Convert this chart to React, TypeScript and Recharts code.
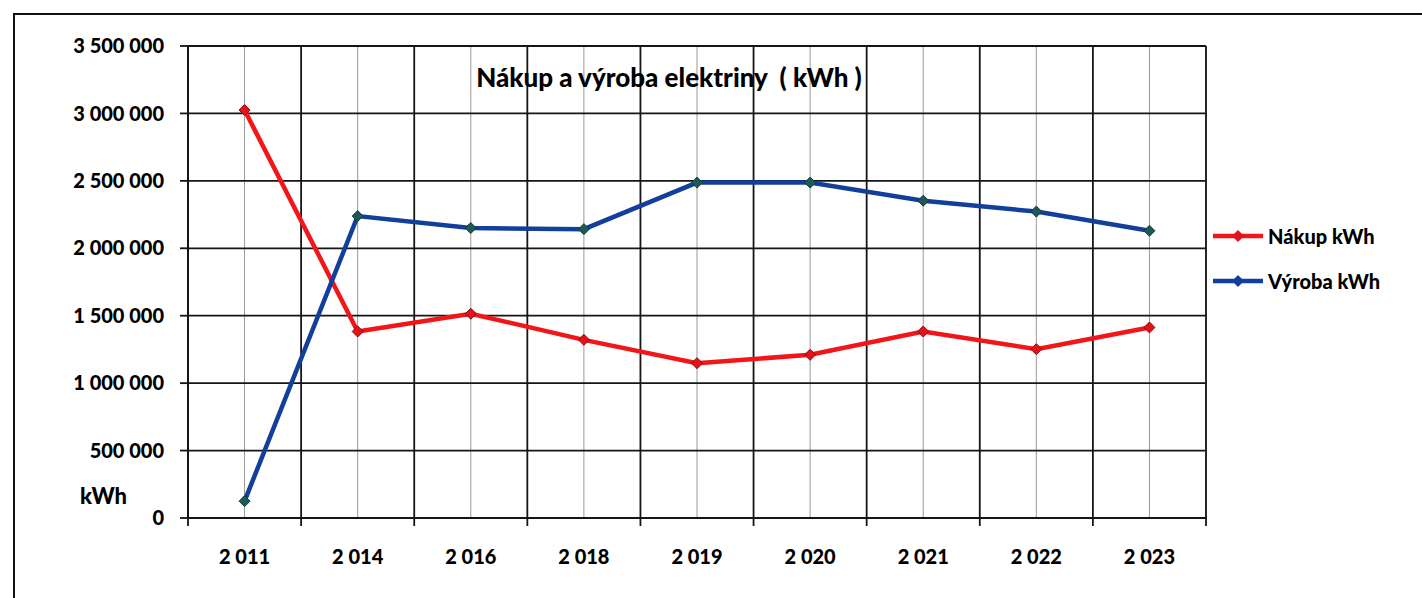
import React from 'react';
import { LineChart, Line, XAxis, YAxis, CartesianGrid } from 'recharts';

const years = ['2 011', '2 014', '2 016', '2 018', '2 019', '2 020', '2 021', '2 022', '2 023'];
const nakup = [3025000, 1383000, 1515000, 1321000, 1148000, 1210000, 1383000, 1252000, 1413000];
const vyroba = [125000, 2239000, 2150000, 2142000, 2487000, 2487000, 2353000, 2272000, 2130000];
const yTicks = [0, 500000, 1000000, 1500000, 2000000, 2500000, 3000000, 3500000];

const data = years.map((year, i) => ({ x: i, year, nakup: nakup[i], vyroba: vyroba[i] }));
const centerTicks = years.map((_, i) => i);
const edgeTicks = [...centerTicks.map((i) => i - 0.5), years.length - 0.5];

const FONT = "Lato, 'Open Sans', sans-serif";
const WEIGHT = 900;
const RED = '#f2161b';
const BLUE = '#123f9c';

const fmt = (n: number) => String(n).replace(/\B(?=(\d{3})+(?!\d))/g, ' ');

const diamond = (fill: string, stroke: string) => (props: any) => {
  const { cx, cy, index } = props;
  if (cx == null || cy == null) return <g key={index} />;
  const r = 5.5;
  return (
    <path
      key={index}
      d={`M${cx},${cy - r} L${cx + r},${cy} L${cx},${cy + r} L${cx - r},${cy} Z`}
      fill={fill}
      stroke={stroke}
      strokeWidth={1}
    />
  );
};

const LegendRow = ({ color, dot, label }: { color: string; dot: string; label: string }) => (
  <div style={{ display: 'flex', alignItems: 'center', height: 45 }}>
    <svg width={50} height={14} style={{ marginRight: 5 }}>
      <line x1={0} y1={7} x2={50} y2={7} stroke={color} strokeWidth={4.5} />
      <path d="M25,1 L31,7 L25,13 L19,7 Z" fill={dot} />
    </svg>
    <span>{label}</span>
  </div>
);

export default function App() {
  return (
    <div style={{ position: 'absolute', left: 0, top: 0, width: 1422, height: 598, background: '#fff', fontFamily: FONT, overflow: 'hidden' }}>
      <div style={{ position: 'absolute', left: 13, top: 13, right: 0, bottom: -4, borderTop: '2px solid #111', borderLeft: '2px solid #111' }} />
      <LineChart
        width={1422}
        height={598}
        data={data}
        margin={{ top: 46, right: 216, left: 8, bottom: 0 }}
      >
        <CartesianGrid xAxisId="year" horizontal={false} stroke="#9a9a9a" strokeWidth={1} />
        <CartesianGrid xAxisId="edge" stroke="#151515" strokeWidth={1.8} />
        <XAxis
          xAxisId="edge"
          type="number"
          dataKey="x"
          domain={[-0.5, 8.5]}
          ticks={edgeTicks}
          tickFormatter={() => ''}
          tickSize={8}
          height={8}
          axisLine={{ stroke: '#151515', strokeWidth: 1.8 }}
          tickLine={{ stroke: '#151515', strokeWidth: 1.8 }}
        />
        <XAxis
          xAxisId="year"
          type="number"
          dataKey="x"
          domain={[-0.5, 8.5]}
          ticks={centerTicks}
          tickFormatter={(i: number) => years[i]}
          axisLine={false}
          tickLine={false}
          tickSize={0}
          tickMargin={24}
          height={72}
          tick={{ fill: '#000', fontSize: 20, fontWeight: WEIGHT, fontFamily: FONT }}
        />
        <YAxis
          domain={[0, 3500000]}
          ticks={yTicks}
          tickFormatter={fmt}
          width={180}
          tickSize={8}
          tickMargin={16}
          axisLine={{ stroke: '#151515', strokeWidth: 1.8 }}
          tickLine={{ stroke: '#151515', strokeWidth: 1.8 }}
          tick={{ fill: '#000', fontSize: 20, fontWeight: WEIGHT, fontFamily: FONT }}
        />
        <Line
          xAxisId="year"
          dataKey="nakup"
          name="Nákup kWh"
          stroke={RED}
          strokeWidth={4.5}
          dot={diamond('#e0141a', '#8a0c10')}
          activeDot={false}
          isAnimationActive={false}
        />
        <Line
          xAxisId="year"
          dataKey="vyroba"
          name="Výroba kWh"
          stroke={BLUE}
          strokeWidth={4.5}
          dot={diamond('#1c5a58', '#143c3a')}
          activeDot={false}
          isAnimationActive={false}
        />
      </LineChart>
      <div style={{ position: 'absolute', left: 669, top: 77, transform: 'translate(-50%, -50%)', fontSize: 26, fontWeight: WEIGHT, whiteSpace: 'pre', color: '#000' }}>
        {'Nákup a výroba elektriny  ( kWh )'}
      </div>
      <div style={{ position: 'absolute', left: 80, top: 495, transform: 'translateY(-50%)', fontSize: 22, fontWeight: WEIGHT, color: '#000' }}>
        kWh
      </div>
      <div style={{ position: 'absolute', left: 1213, top: 213, fontSize: 20, fontWeight: WEIGHT, color: '#000' }}>
        <LegendRow color={RED} dot="#e0141a" label="Nákup kWh" />
        <LegendRow color={BLUE} dot="#123f9c" label="Výroba kWh" />
      </div>
    </div>
  );
}
